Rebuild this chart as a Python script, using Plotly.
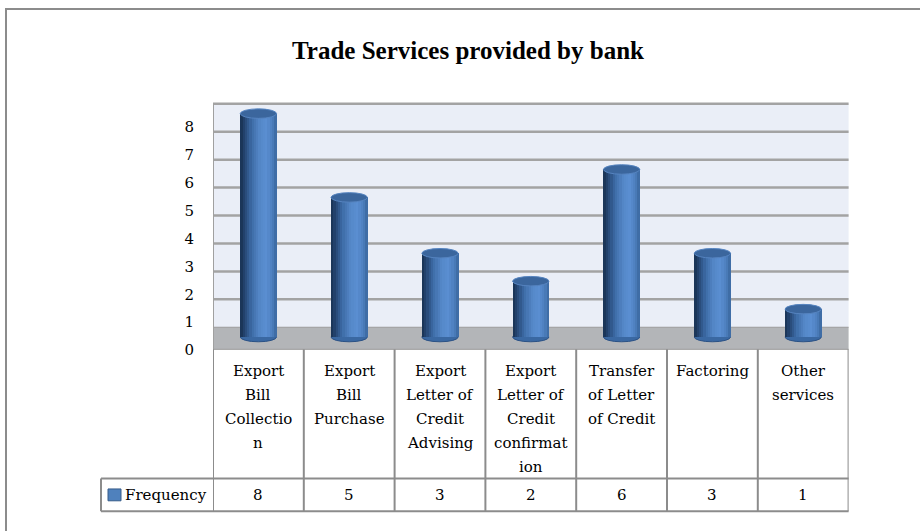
import plotly.graph_objects as go

# ---------------- data ----------------
categories = ["Export Bill Collection", "Export Bill Purchase", "Export Letter of Credit Advising",
              "Export Letter of Credit confirmation", "Transfer of Letter of Credit", "Factoring",
              "Other services"]
header_lines = [["Export", "Bill", "Collectio", "n"],
                ["Export", "Bill", "Purchase"],
                ["Export", "Letter of", "Credit", "Advising"],
                ["Export", "Letter of", "Credit", "confirmat", "ion"],
                ["Transfer", "of Letter", "of Credit"],
                ["Factoring"],
                ["Other", "services"]]
frequency = [8, 5, 3, 2, 6, 3, 1]
series_name = "Frequency"
y_ticks = [0, 1, 2, 3, 4, 5, 6, 7, 8]
title = "Trade Services provided by bank"

# ---------------- style ----------------
W, H = 920, 531
FONT = "DejaVu Serif"
def px(y):  # pixel row -> paper y
    return 1 - y / H
def pxx(x):
    return x / W

BACK_OFF = 0.35     # back wall shift (axis units)
FRONT_OFF = -0.47   # front plane shift
BAR_W = 0.40
ELL_H = 0.17
N_SLICES = 16
stops = [(0.0, (0x18, 0x30, 0x50)), (0.12, (0x25, 0x46, 0x72)), (0.32, (0x3E, 0x6D, 0xA8)),
         (0.55, (0x55, 0x88, 0xC9)), (0.72, (0x5A, 0x8E, 0xD1)), (0.88, (0x4D, 0x7F, 0xBE)),
         (1.0, (0x3A, 0x66, 0x9E))]
def grad(t):
    for (a, ca), (b, cb) in zip(stops[:-1], stops[1:]):
        if a <= t <= b:
            f = (t - a) / (b - a)
            c = [round(ca[i] + (cb[i] - ca[i]) * f) for i in range(3)]
            return "rgb(%d,%d,%d)" % tuple(c)
    return "rgb(58,102,158)"

xs = list(range(len(categories)))
fig = go.Figure()
sw = BAR_W / N_SLICES
for k in range(N_SLICES):
    fig.add_trace(go.Bar(x=xs, y=frequency, base=0, width=sw * 1.15,
                         offset=-BAR_W / 2 + k * sw,
                         marker=dict(color=grad((k + 0.5) / N_SLICES), line=dict(width=0)),
                         showlegend=False, hoverinfo="skip"))

shapes = []
# outer chart border
shapes.append(dict(type="rect", xref="paper", yref="paper", x0=pxx(6), x1=1.05, y0=-0.05, y1=px(9),
                   line=dict(color="#8C8C8C", width=2), fillcolor="rgba(0,0,0,0)", layer="below"))
# back wall
shapes.append(dict(type="rect", xref="x", yref="y", x0=-0.5, x1=6.52, y0=BACK_OFF, y1=y_ticks[-1] + BACK_OFF,
                   fillcolor="#EAEEF7", line=dict(width=0), layer="below"))
# floor
shapes.append(dict(type="rect", xref="x", yref="y", x0=-0.5, x1=6.52, y0=-0.44, y1=BACK_OFF,
                   fillcolor="#B3B5B8", line=dict(color="#9A9A9A", width=1), layer="below"))
# back gridlines
for v in y_ticks[1:]:
    shapes.append(dict(type="line", xref="x", yref="y", x0=-0.5, x1=6.52, y0=v + BACK_OFF, y1=v + BACK_OFF,
                       line=dict(color="#A3A3A3", width=2.5), layer="below"))
# wall left edge
shapes.append(dict(type="line", xref="x", yref="y", x0=-0.5, x1=-0.5, y0=-0.44, y1=y_ticks[-1] + BACK_OFF,
                   line=dict(color="#A0A0A0", width=2), layer="below"))
# bottom ellipses
for i, v in enumerate(frequency):
    shapes.append(dict(type="circle", xref="x", yref="y", x0=i - BAR_W / 2, x1=i + BAR_W / 2,
                       y0=-ELL_H, y1=ELL_H, fillcolor="#3A68A2", line=dict(color="#2C5285", width=1),
                       layer="below"))
# top ellipses
for i, v in enumerate(frequency):
    shapes.append(dict(type="circle", xref="x", yref="y", x0=i - BAR_W / 2, x1=i + BAR_W / 2,
                       y0=v - ELL_H, y1=v + ELL_H, fillcolor="#3B669D", line=dict(color="#5684C0", width=1),
                       layer="above"))

# data table lines
TBL_TOP, TBL_MID, TBL_BOT = 354, 485, 518
for b in range(len(categories) + 1):
    shapes.append(dict(type="line", xref="x", yref="paper", x0=b - 0.5, x1=b - 0.5,
                       y0=px(TBL_TOP), y1=px(TBL_BOT), line=dict(color="#8C8C8C", width=2)))
for yy in (TBL_MID, TBL_BOT):
    shapes.append(dict(type="line", xref="paper", yref="paper", x0=pxx(101), x1=pxx(848.6),
                       y0=px(yy), y1=px(yy), line=dict(color="#8C8C8C", width=2)))
shapes.append(dict(type="line", xref="paper", yref="paper", x0=pxx(101), x1=pxx(101),
                   y0=px(TBL_MID), y1=px(TBL_BOT), line=dict(color="#8C8C8C", width=2)))
# legend key
shapes.append(dict(type="rect", xref="paper", yref="paper", x0=pxx(108), x1=pxx(121),
                   y0=px(507.5), y1=px(495.5), fillcolor="#4F81BD", line=dict(color="#385D8A", width=1)))

annotations = []
for i, lines in enumerate(header_lines):
    for j, t in enumerate(lines):
        annotations.append(dict(x=i, xref="x", y=px(375.7 + 24.4 * j), yref="paper", text=t,
                                showarrow=False, xanchor="center", yanchor="middle",
                                font=dict(family=FONT, size=15, color="#000")))
for i, v in enumerate(frequency):
    annotations.append(dict(x=i, xref="x", y=px(501.5), yref="paper", text=str(v), showarrow=False,
                            xanchor="center", yanchor="middle", font=dict(family=FONT, size=15, color="#000")))
annotations.append(dict(x=pxx(123), xref="paper", y=px(501.5), yref="paper", text=series_name,
                        showarrow=False, xanchor="left", yanchor="middle",
                        font=dict(family=FONT, size=15, color="#000")))

fig.update_layout(
    width=W, height=H, margin=dict(l=0, r=0, t=0, b=0),
    paper_bgcolor="white", plot_bgcolor="rgba(0,0,0,0)",
    barmode="overlay", bargap=0,
    title=dict(text="<b>" + title + "</b>", x=pxx(468), y=px(50), xanchor="center", yanchor="middle",
               font=dict(family="Liberation Serif", size=25, color="#000")),
    xaxis=dict(domain=[pxx(213), pxx(848.6)], range=[-0.5, 6.5], showgrid=False, zeroline=False,
               showticklabels=False, showline=False, fixedrange=True),
    yaxis=dict(domain=[px(357.1), px(102.4)], range=[-0.55, 8.45], showgrid=False, zeroline=False,
               showline=False, tickvals=[v + FRONT_OFF for v in y_ticks], ticktext=[str(v) for v in y_ticks],
               ticks="", ticklabelstandoff=18, tickfont=dict(family=FONT, size=15, color="#000")),
    shapes=shapes, annotations=annotations, showlegend=False,
)
fig.write_html("out.html")
